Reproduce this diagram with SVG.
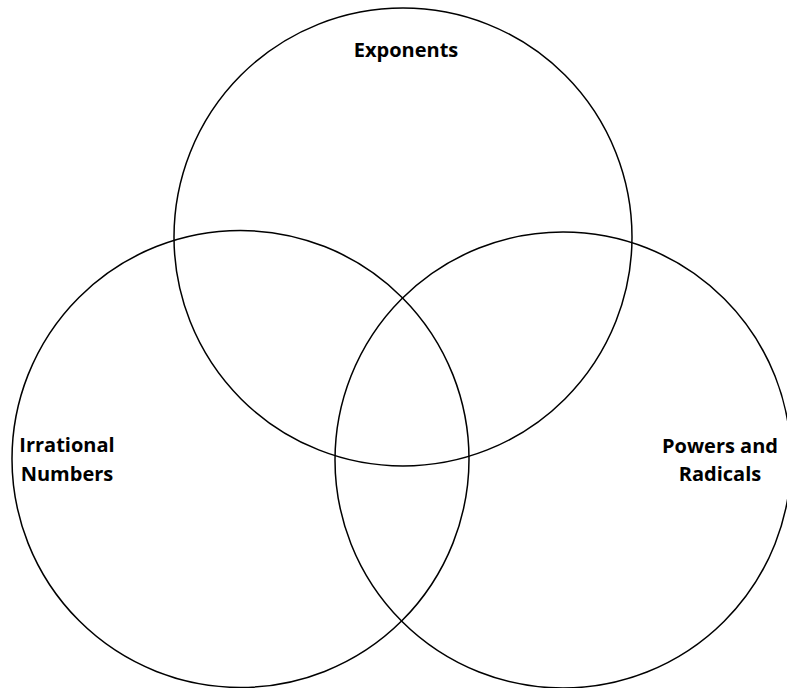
<svg xmlns="http://www.w3.org/2000/svg" width="787" height="688" viewBox="0 0 787 688">
<style>
.c{fill:none;stroke:#000;stroke-width:1.5}
.t{font-family:"Open Sans","Liberation Sans",sans-serif;font-weight:bold;font-size:20px;fill:#000;text-anchor:middle}
</style>
<rect width="787" height="688" fill="#fff"/>
<g id="exponents">
<circle class="c" cx="403" cy="237" r="229"/>
<text class="t" x="406" y="57">Exponents</text>
</g>
<g id="irrational-numbers">
<circle class="c" cx="240.5" cy="459" r="228.5"/>
<text class="t" x="67" y="452">Irrational</text>
<text class="t" x="67" y="481">Numbers</text>
</g>
<g id="powers-and-radicals">
<circle class="c" cx="563" cy="460" r="228"/>
<text class="t" x="720" y="453">Powers and</text>
<text class="t" x="720" y="481">Radicals</text>
</g>
<g id="connectors"/>
</svg>
